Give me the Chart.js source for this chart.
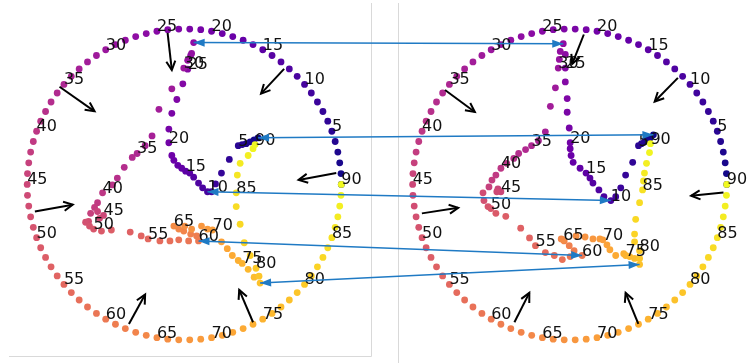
<!DOCTYPE html>
<html>
<head>
<meta charset="utf-8">
<script src="https://cdn.jsdelivr.net/npm/chart.js@4.4.0/dist/chart.umd.min.js"></script>
<style>
  html, body { margin: 0; padding: 0; background: #ffffff; overflow: hidden; }
  canvas { display: block; }
</style>
</head>
<body>
<canvas id="chart" width="748" height="363"></canvas>
<script>
// Reference circle (91 samples, first and last coincide)
const circleX = [1.000, 0.998, 0.990, 0.978, 0.961, 0.940, 0.914, 0.883, 0.848, 0.809, 0.766, 0.719, 0.669, 0.616, 0.559, 0.500, 0.438, 0.375, 0.309, 0.242, 0.174, 0.105, 0.035,
  -0.035, -0.105, -0.174, -0.242, -0.309, -0.375, -0.438, -0.500, -0.559, -0.616, -0.669, -0.719, -0.766, -0.809, -0.848, -0.883, -0.914, -0.940, -0.961, -0.978, -0.990, -0.998,
  -1.000,
  -0.998, -0.990, -0.978, -0.961, -0.940, -0.914, -0.883, -0.848, -0.809, -0.766, -0.719, -0.669, -0.616, -0.559, -0.500, -0.438, -0.375, -0.309, -0.242, -0.174, -0.105, -0.035,
  0.035, 0.105, 0.174, 0.242, 0.309, 0.375, 0.438, 0.500, 0.559, 0.616, 0.669, 0.719, 0.766, 0.809, 0.848, 0.883, 0.914, 0.940, 0.961, 0.978, 0.990, 0.998, 1.000];
const circleY = [0.000, 0.070, 0.139, 0.208, 0.276, 0.342, 0.407, 0.469, 0.530, 0.588, 0.643, 0.695, 0.743, 0.788, 0.829, 0.866, 0.899, 0.927, 0.951, 0.970, 0.985, 0.995, 0.999,
  0.999, 0.995, 0.985, 0.970, 0.951, 0.927, 0.899, 0.866, 0.829, 0.788, 0.743, 0.695, 0.643, 0.588, 0.530, 0.469, 0.407, 0.342, 0.276, 0.208, 0.139, 0.070,
  0.000,
  -0.070, -0.139, -0.208, -0.276, -0.342, -0.407, -0.469, -0.530, -0.588, -0.643, -0.695, -0.743, -0.788, -0.829, -0.866, -0.899, -0.927, -0.951, -0.970, -0.985, -0.995, -0.999,
  -0.999, -0.995, -0.985, -0.970, -0.951, -0.927, -0.899, -0.866, -0.829, -0.788, -0.743, -0.695, -0.643, -0.588, -0.530, -0.469, -0.407, -0.342, -0.276, -0.208, -0.139, -0.070, 0.000];

// Curve in the left panel
const curveAX = [0.470, 0.445, 0.420, 0.394, 0.369, 0.344, 0.287, 0.237, 0.199, 0.174,
  0.148, 0.117, 0.091, 0.060, 0.035, 0.009, -0.016, -0.041, -0.066, -0.079,
  -0.098, -0.098, -0.079, -0.047, -0.009, 0.022, 0.041, 0.060, 0.047, 0.022,
  -0.003, -0.079, -0.161, -0.205, -0.249, -0.300, -0.331, -0.382, -0.426, -0.457,
  -0.520, -0.552, -0.571, -0.596, -0.552, -0.514, -0.539, -0.609, -0.628, -0.603,
  -0.577, -0.527, -0.464, -0.344, -0.274, -0.230, -0.155, -0.091, -0.035, 0.028,
  0.091, 0.079, 0.041, -0.003, -0.035, -0.066, 0.003, 0.047, 0.110, 0.148,
  0.180, 0.237, 0.274, 0.306, 0.344, 0.369, 0.407, 0.445, 0.483, 0.476,
  0.457, 0.420, 0.382, 0.356, 0.331, 0.331, 0.338, 0.356, 0.407, 0.438, 0.451];
const curveAY = [0.300, 0.287, 0.274, 0.262, 0.256, 0.249, 0.161, 0.073, 0.003, -0.047,
  -0.047, -0.022, 0.009, 0.047, 0.073, 0.085, 0.104, 0.123, 0.155, 0.186,
  0.268, 0.356, 0.457, 0.546, 0.647, 0.741, 0.830, 0.912, 0.842, 0.798,
  0.748, 0.615, 0.483, 0.312, 0.249, 0.199, 0.174, 0.110, 0.041, -0.003,
  -0.054, -0.117, -0.148, -0.186, -0.174, -0.199, -0.218, -0.237, -0.243, -0.268,
  -0.287, -0.300, -0.293, -0.306, -0.331, -0.350, -0.363, -0.363, -0.356, -0.363,
  -0.363, -0.331, -0.319, -0.300, -0.287, -0.268, -0.268, -0.287, -0.268, -0.287,
  -0.293, -0.369, -0.413, -0.457, -0.489, -0.508, -0.546, -0.596, -0.634, -0.590,
  -0.539, -0.457, -0.375, -0.256, -0.142, -0.054, 0.060, 0.136, 0.186, 0.230, 0.256];

// Curve in the right panel
const curveBX = [0.533, 0.514, 0.495, 0.476, 0.457, 0.438, 0.401, 0.356, 0.325, 0.293,
  0.262, 0.218, 0.186, 0.148, 0.129, 0.104, 0.066, 0.022, 0.009, 0.003,
  0.003, -0.003, -0.016, -0.016, -0.028, -0.028, -0.028, -0.041, -0.060, -0.066,
  -0.073, -0.091, -0.123, -0.155, -0.199, -0.243, -0.281, -0.325, -0.356, -0.401,
  -0.438, -0.470, -0.495, -0.514, -0.457, -0.438, -0.464, -0.552, -0.546, -0.520,
  -0.502, -0.470, -0.407, -0.312, -0.256, -0.218, -0.155, -0.098, -0.047, 0.003,
  0.079, 0.028, -0.003, -0.035, -0.054, -0.041, 0.041, 0.098, 0.148, 0.192,
  0.211, 0.237, 0.256, 0.293, 0.344, 0.356, 0.382, 0.413, 0.445, 0.445,
  0.445, 0.413, 0.413, 0.420, 0.445, 0.464, 0.470, 0.476, 0.489, 0.508, 0.514];
const curveBY = [0.319, 0.300, 0.287, 0.274, 0.262, 0.249, 0.142, 0.060, -0.022, -0.079,
  -0.104, -0.079, -0.035, 0.009, 0.041, 0.073, 0.104, 0.142, 0.186, 0.230,
  0.268, 0.363, 0.464, 0.552, 0.659, 0.748, 0.836, 0.905, 0.855, 0.804,
  0.748, 0.621, 0.502, 0.338, 0.281, 0.249, 0.224, 0.199, 0.167, 0.136,
  0.104, 0.060, 0.028, -0.016, -0.028, -0.047, -0.047, -0.054, -0.104, -0.142,
  -0.155, -0.186, -0.205, -0.281, -0.344, -0.394, -0.438, -0.457, -0.483, -0.464,
  -0.457, -0.426, -0.394, -0.363, -0.350, -0.356, -0.331, -0.338, -0.350, -0.350,
  -0.356, -0.388, -0.420, -0.457, -0.445, -0.457, -0.464, -0.476, -0.514, -0.476,
  -0.426, -0.369, -0.319, -0.224, -0.117, -0.035, 0.022, 0.073, 0.136, 0.205, 0.262];

// Every fifth sample (from 5 on) gets its index written next to it
const labelEvery = 5;

// Direction arrows (start point and vector) for each panel
const arrowsLX = [-0.106, 0.636, -0.794, -0.951, -0.352, 0.438, 0.968];
const arrowsLY = [0.975, 0.743, 0.628, -0.174, -0.897, -0.886, 0.073];
const arrowsLU = [0.027, -0.147, 0.223, 0.241, 0.103, -0.088, -0.240];
const arrowsLV = [-0.240, -0.159, -0.158, 0.044, 0.189, 0.208, -0.044];

const arrowsRX = [0.090, 0.689, -0.794, -0.941, -0.352, 0.437, 0.979];
const arrowsRY = [0.964, 0.685, 0.607, -0.186, -0.886, -0.897, -0.052];
const arrowsRU = [-0.074, -0.148, 0.190, 0.231, 0.095, -0.081, -0.206];
const arrowsRV = [-0.189, -0.152, -0.141, 0.036, 0.189, 0.200, -0.021];

// Sample indices joined between the two curves
const matchedA = [27, 0, 10, 60, 78];
const matchedB = [27, 0, 10, 60, 78];

// ---------------------------------------------------------------
const plasmaStops = ['#0d0887', '#41049d', '#6a00a8', '#8f0da4', '#b12a90', '#cc4778',
  '#e16462', '#f2844b', '#fca636', '#fcce25', '#f0f921'];
function hexToRgb(h) {
  return [parseInt(h.slice(1, 3), 16), parseInt(h.slice(3, 5), 16), parseInt(h.slice(5, 7), 16)];
}
function plasma(t) {
  t = Math.max(0, Math.min(1, t));
  const s = t * (plasmaStops.length - 1);
  const i = Math.min(Math.floor(s), plasmaStops.length - 2);
  const f = s - i;
  const a = hexToRgb(plasmaStops[i]), b = hexToRgb(plasmaStops[i + 1]);
  const c = a.map((v, k) => Math.round(v + (b[k] - v) * f));
  return `rgb(${c[0]},${c[1]},${c[2]})`;
}
const toPoints = (xs, ys) => xs.map((x, i) => ({ x, y: ys[i] }));
const colourRamp = (n) => Array.from({ length: n }, (_, i) => plasma(i / (n - 1)));

const dotStyle = { showLine: false, pointRadius: 3.4, pointHoverRadius: 3.4, pointBorderWidth: 0, yAxisID: 'y' };

const datasets = [
  { label: 'circle A', data: toPoints(circleX, circleY), xAxisID: 'xL', pointBackgroundColor: colourRamp(circleX.length), ...dotStyle },
  { label: 'curve A', data: toPoints(curveAX, curveAY), xAxisID: 'xL', pointBackgroundColor: colourRamp(curveAX.length), ...dotStyle },
  { label: 'circle B', data: toPoints(circleX, circleY), xAxisID: 'xR', pointBackgroundColor: colourRamp(circleX.length), ...dotStyle },
  { label: 'curve B', data: toPoints(curveBX, curveBY), xAxisID: 'xR', pointBackgroundColor: colourRamp(curveBX.length), ...dotStyle }
];

// Light frame lines of the two panels
const panelFrame = {
  id: 'panelFrame',
  beforeDatasetsDraw(chart) {
    const ctx = chart.ctx;
    ctx.save();
    ctx.strokeStyle = '#d9d9d9';
    ctx.lineWidth = 1;
    ctx.beginPath();
    ctx.moveTo(371.5, 3); ctx.lineTo(371.5, 356.5); ctx.lineTo(9, 356.5);
    ctx.moveTo(398.5, 3); ctx.lineTo(398.5, 363);
    ctx.stroke();
    ctx.restore();
  }
};

// Index labels next to every fifth sample
const indexLabels = {
  id: 'indexLabels',
  afterDatasetsDraw(chart) {
    const ctx = chart.ctx;
    ctx.save();
    ctx.fillStyle = '#111111';
    ctx.font = '16px "DejaVu Sans", sans-serif';
    ctx.textAlign = 'left';
    ctx.textBaseline = 'alphabetic';
    chart.data.datasets.forEach((ds, d) => {
      chart.getDatasetMeta(d).data.forEach((el, i) => {
        if (i > 0 && i % labelEvery === 0) ctx.fillText(String(i), el.x, el.y);
      });
    });
    ctx.restore();
  }
};

function openHead(ctx, x1, y1, x2, y2, len, half) {
  const a = Math.atan2(y2 - y1, x2 - x1);
  const c = Math.cos(a), s = Math.sin(a);
  ctx.beginPath();
  ctx.moveTo(x2 - len * c + half * s, y2 - len * s - half * c);
  ctx.lineTo(x2, y2);
  ctx.lineTo(x2 - len * c - half * s, y2 - len * s + half * c);
  ctx.stroke();
}
function filledHead(ctx, x1, y1, x2, y2, len, half) {
  const a = Math.atan2(y2 - y1, x2 - x1);
  const c = Math.cos(a), s = Math.sin(a);
  ctx.beginPath();
  ctx.moveTo(x2, y2);
  ctx.lineTo(x2 - len * c + half * s, y2 - len * s - half * c);
  ctx.lineTo(x2 - len * c - half * s, y2 - len * s + half * c);
  ctx.closePath();
  ctx.fill();
}

// Black direction arrows
const directionArrows = {
  id: 'directionArrows',
  afterDatasetsDraw(chart) {
    const ctx = chart.ctx, sy = chart.scales.y;
    const sets = [
      [chart.scales.xL, arrowsLX, arrowsLY, arrowsLU, arrowsLV],
      [chart.scales.xR, arrowsRX, arrowsRY, arrowsRU, arrowsRV]
    ];
    ctx.save();
    ctx.strokeStyle = '#000000';
    ctx.lineWidth = 2;
    sets.forEach(([sx, X, Y, U, V]) => {
      X.forEach((x0, k) => {
        const x1 = sx.getPixelForValue(x0), y1 = sy.getPixelForValue(Y[k]);
        const x2 = sx.getPixelForValue(x0 + U[k]), y2 = sy.getPixelForValue(Y[k] + V[k]);
        ctx.beginPath(); ctx.moveTo(x1, y1); ctx.lineTo(x2, y2); ctx.stroke();
        openHead(ctx, x1, y1, x2, y2, 9, 4.5);
      });
    });
    ctx.restore();
  }
};

// Blue double-headed links between matched samples of the two curves
const matchLinks = {
  id: 'matchLinks',
  afterDatasetsDraw(chart) {
    const ctx = chart.ctx;
    const a = chart.getDatasetMeta(1).data, b = chart.getDatasetMeta(3).data;
    ctx.save();
    ctx.strokeStyle = '#1f7ac4';
    ctx.fillStyle = '#1f7ac4';
    ctx.lineWidth = 1.5;
    matchedA.forEach((ia, k) => {
      const p = a[ia], q = b[matchedB[k]];
      ctx.beginPath(); ctx.moveTo(p.x, p.y); ctx.lineTo(q.x, q.y); ctx.stroke();
      filledHead(ctx, q.x, q.y, p.x, p.y, 11, 4);
      filledHead(ctx, p.x, p.y, q.x, q.y, 11, 4);
    });
    ctx.restore();
  }
};

new Chart(document.getElementById('chart'), {
  type: 'scatter',
  data: { datasets },
  options: {
    responsive: false,
    animation: false,
    events: [],
    layout: { padding: 0 },
    plugins: { legend: { display: false }, tooltip: { enabled: false } },
    scales: {
      xL: { type: 'linear', axis: 'x', display: false, min: -1.1514, max: 3.5678 },
      xR: { type: 'linear', axis: 'x', display: false, min: -3.6057, max: 1.1136 },
      y: { type: 'linear', display: false, min: -1.1262, max: 1.1640 }
    }
  },
  plugins: [panelFrame, indexLabels, directionArrows, matchLinks]
});
</script>
</body>
</html>
